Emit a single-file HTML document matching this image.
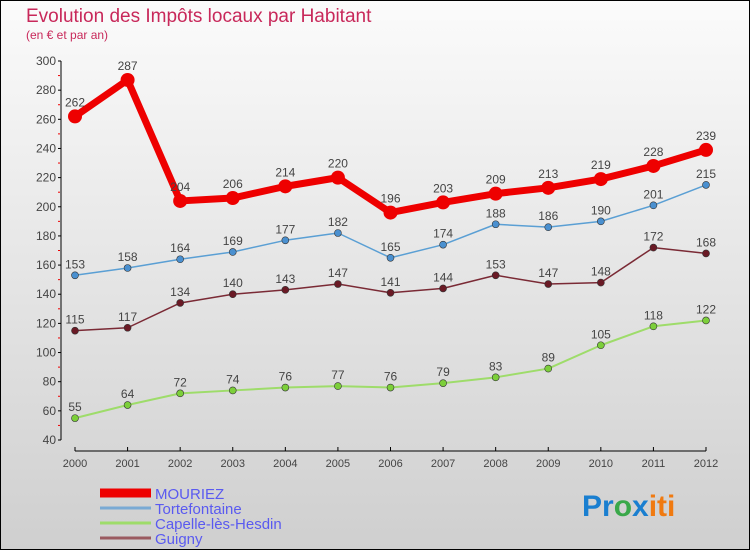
<!DOCTYPE html>
<html><head><meta charset="utf-8"><style>
body{margin:0;width:750px;height:550px;overflow:hidden}
svg{display:block;font-family:"Liberation Sans",sans-serif}
</style></head><body>
<svg id="c" width="750" height="550">
<defs><linearGradient id="bg" x1="0" y1="0" x2="0" y2="1"><stop offset="0" stop-color="#fbfbfb"/><stop offset="1" stop-color="#cfcfcf"/></linearGradient></defs>
<rect x="0.5" y="0.5" width="749" height="549" fill="url(#bg)" stroke="#000"/>
<text x="26" y="22" font-size="19" fill="#c8285a">Evolution des Impôts locaux par Habitant</text>
<text x="26" y="39" font-size="12" fill="#c8285a">(en € et par an)</text>
<g id="axes"></g><g id="series"></g><g id="legend"></g>
<text x="582" y="516" font-size="30" font-weight="bold"><tspan fill="#1a7fd0">Pr</tspan><tspan fill="#3aa84a">o</tspan><tspan fill="#1a7fd0">x</tspan><tspan fill="#f07a10">iti</tspan></text>
</svg>
<script>
const years=[2000,2001,2002,2003,2004,2005,2006,2007,2008,2009,2010,2011,2012];
const yTicks=[40,60,80,100,120,140,160,180,200,220,240,260,280,300];
const seriesNames=["MOURIEZ","Tortefontaine","Capelle-lès-Hesdin","Guigny"];
const mouriez=[262,287,204,206,214,220,196,203,209,213,219,228,239];
const tortefontaine=[153,158,164,169,177,182,165,174,188,186,190,201,215];
const capelle=[55,64,72,74,76,77,76,79,83,89,105,118,122];
const guigny=[115,117,134,140,143,147,141,144,153,147,148,172,168];
const NS="http://www.w3.org/2000/svg";
function X(i){return 75+i*(706-75)/(years.length-1);}
function Y(v){return 440-(v-40)*(440-61)/260;}
function mk(t,a,p){const e=document.createElementNS(NS,t);for(const k in a)e.setAttribute(k,a[k]);p.appendChild(e);return e;}
const ax=document.getElementById('axes');
const yl=mk('line',{x1:61,y1:Y(300),x2:61,y2:Y(40),stroke:'#000'},ax);


yTicks.forEach(v=>{
 mk('line',{x1:58,y1:Y(v),x2:61,y2:Y(v),stroke:'#000'},ax);
 if(v<300)mk('line',{x1:58,y1:Y(v+10),x2:60,y2:Y(v+10),stroke:'#e00'},ax);
 const t=mk('text',{x:56,y:Y(v)+4,'text-anchor':'end','font-size':12,fill:'#444'},ax);t.textContent=v;
 
 
});
const xl=mk('line',{x1:75,y1:451,x2:706,y2:451,stroke:'#000'},ax);


years.forEach((y,i)=>{
 mk('line',{x1:X(i),y1:447,x2:X(i),y2:451,stroke:'#000'},ax);
 const t=mk('text',{x:X(i),y:467,'text-anchor':'middle','font-size':11,fill:'#444'},ax);t.textContent=y;
 
 
});
const sg=document.getElementById('series');
const defs=[[tortefontaine,'#5a9fd4','#4a90d0',1.5,3.5,'tortefontaine'],[capelle,'#9edc6a','#7ccf3a',2,3.5,'capelle'],[guigny,'#7a2a35','#6a1a25',1.5,3.5,'guigny'],[mouriez,'#ee0000','#ee0000',7,7,'mouriez']];
defs.forEach(([d,c,fc,w,r,n])=>{
 const g=mk('g',{},sg);
 
 
 const l=mk('polyline',{points:d.map((v,i)=>X(i)+','+Y(v)).join(' '),fill:'none',stroke:c,'stroke-width':w,'stroke-linejoin':'round'},g);
 
 
 d.forEach((v,i)=>{
  const p=mk('circle',{cx:X(i),cy:Y(v),r:r,fill:fc,stroke:n=='mouriez'?'none':'#333','stroke-width':0.6},g);
  
  
  const t=mk('text',{x:X(i),y:Y(v)-(n=='mouriez'?10:7),'text-anchor':'middle','font-size':12,fill:'#444'},g);t.textContent=v;
  
  
 });
});
const lg=document.getElementById('legend');
const lc=['#ee0000','#7aaad4','#9edc6a','#9a5a60'],lw=[9,3,3,3];
seriesNames.forEach((s,i)=>{
 const y=493+i*15;
 const l=mk('line',{x1:100,y1:y,x2:151,y2:y,stroke:lc[i],'stroke-width':lw[i]},lg);
 
 
 const t=mk('text',{x:155,y:y+6,'font-size':15,fill:'#5a5af0'},lg);t.textContent=s;
 
 
});
</script>
</body></html>
